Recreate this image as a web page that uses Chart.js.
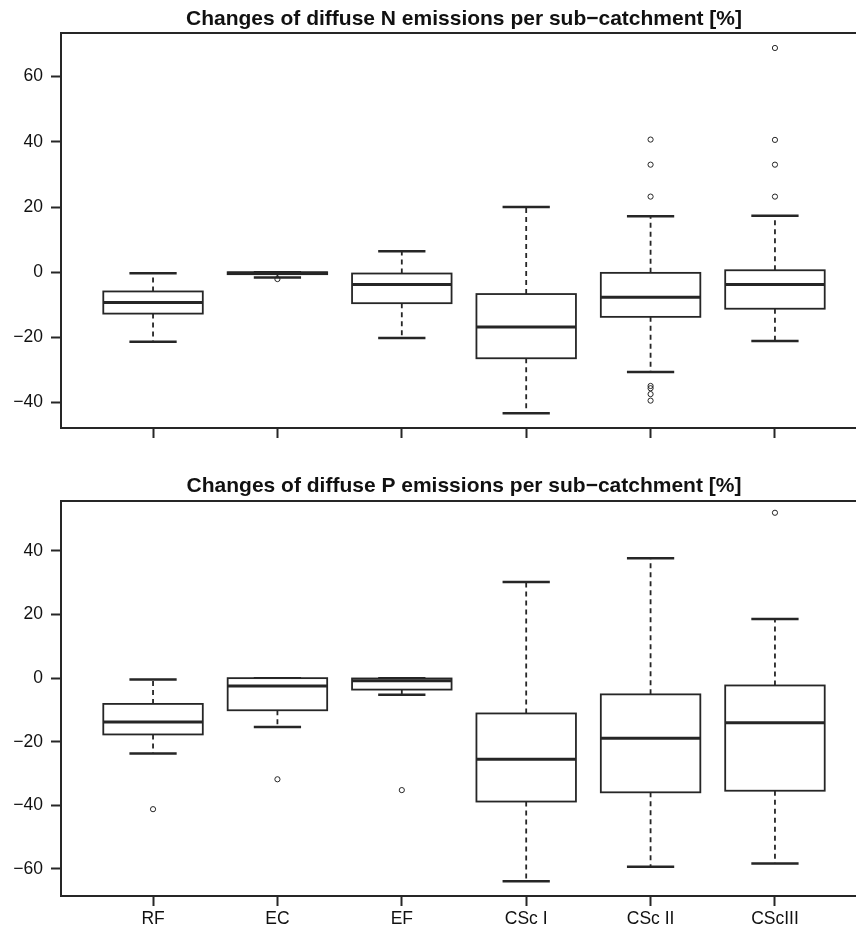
<!DOCTYPE html>
<html lang="en">
<head>
<meta charset="UTF-8" />
<title>Changes of diffuse N and P emissions</title>
<script src="https://cdn.jsdelivr.net/npm/chart.js"></script>
<style>
  body { margin: 0; background: #fff; overflow: hidden; width: 856px; height: 930px; }
  canvas { display: block; }
</style>
</head>
<body>
<canvas id="nChart" width="880" height="465"></canvas>
<canvas id="pChart" width="880" height="465"></canvas>
<script>
// scenarios on the x axis
const categories = ['RF', 'EC', 'EF', 'CSc I', 'CSc II', 'CScIII'];

// diffuse N emission changes [%]
const nLow  = [-21.3, -1.6, -20.2, -43.3, -30.6, -21.1];
const nQ1   = [-12.7, -0.6,  -9.5, -26.4, -13.7, -11.2];
const nMed  = [ -9.3, -0.3,  -3.8, -16.8,  -7.7,  -3.8];
const nQ3   = [ -5.9,  0.0,  -0.4,  -6.7,  -0.2,   0.6];
const nHigh = [ -0.3,  0.0,   6.4,  20.0,  17.2,  17.3];
const nOutliers = [[], [-2.1], [], [], [40.7, 33.0, 23.2, -34.9, -35.6, -37.4, -39.4], [68.8, 40.6, 33.0, 23.2]];
const nTicks = [-40, -20, 0, 20, 40, 60];

// diffuse P emission changes [%]
const pLow  = [-23.7, -15.4, -5.2, -63.9, -59.3, -58.3];
const pQ1   = [-17.7, -10.1, -3.6, -38.8, -35.9, -35.4];
const pMed  = [-13.8,  -2.5, -0.8, -25.5, -18.9, -14.0];
const pQ3   = [ -8.1,   0.0, -0.1, -11.1,  -5.1,  -2.3];
const pHigh = [ -0.4,   0.0,  0.0,  30.2,  37.7,  18.6];
const pOutliers = [[-41.2], [-31.8], [-35.2], [], [], [52.0]];
const pTicks = [-60, -40, -20, 0, 20, 40];

const INK = '#262626';
const FONT = "'Liberation Sans', Arial, Helvetica, sans-serif";

function minusLabel(v) {
  return v < 0 ? '\u2212' + Math.abs(v) : String(v);
}

// draws boxes, whiskers, the top frame line and the panel title
function makeBoxPlugin(title, titleY, s) {
  return {
    id: 'boxPlot',
    beforeDatasetsDraw(chart) {
      const { ctx, scales: { x, y } } = chart;
      ctx.save();
      ctx.strokeStyle = INK;
      categories.forEach((c, i) => {
        const cx = x.getPixelForValue(i);
        const bl = x.getPixelForValue(i - 0.4), br = x.getPixelForValue(i + 0.4);
        const sl = x.getPixelForValue(i - 0.19), sr = x.getPixelForValue(i + 0.19);
        const yLo = y.getPixelForValue(s.low[i]), yHi = y.getPixelForValue(s.high[i]);
        const y1 = y.getPixelForValue(s.q1[i]), y3 = y.getPixelForValue(s.q3[i]);
        const ym = y.getPixelForValue(s.med[i]);
        // whiskers
        ctx.lineWidth = 1.8;
        ctx.setLineDash([5, 4]);
        ctx.beginPath();
        ctx.moveTo(cx, y3); ctx.lineTo(cx, yHi);
        ctx.moveTo(cx, y1); ctx.lineTo(cx, yLo);
        ctx.stroke();
        ctx.setLineDash([]);
        // staples
        ctx.lineWidth = 2.5;
        ctx.beginPath();
        ctx.moveTo(sl, yHi); ctx.lineTo(sr, yHi);
        ctx.moveTo(sl, yLo); ctx.lineTo(sr, yLo);
        ctx.stroke();
        // box
        ctx.fillStyle = '#fff';
        ctx.fillRect(bl, y3, br - bl, y1 - y3);
        ctx.lineWidth = 1.8;
        ctx.strokeRect(bl, y3, br - bl, y1 - y3);
        // median
        ctx.lineWidth = 3;
        ctx.beginPath();
        ctx.moveTo(bl, ym); ctx.lineTo(br, ym);
        ctx.stroke();
      });
      ctx.restore();
    },
    afterDraw(chart) {
      const { ctx, chartArea: a } = chart;
      ctx.save();
      ctx.strokeStyle = INK;
      ctx.lineWidth = 2;
      ctx.beginPath();
      ctx.moveTo(a.left - 1, a.top); ctx.lineTo(a.right, a.top); ctx.lineTo(a.right, a.bottom);
      ctx.stroke();
      ctx.fillStyle = '#111';
      ctx.font = 'bold 21px ' + FONT;
      ctx.textAlign = 'center';
      ctx.textBaseline = 'alphabetic';
      ctx.fillText(title, (a.left + a.right) / 2, titleY);
      ctx.restore();
    }
  };
}

function makeChart(id, o) {
  const points = [];
  o.outliers.forEach((list, i) => list.forEach(v => points.push({ x: i, y: v })));
  return new Chart(document.getElementById(id), {
    type: 'scatter',
    data: {
      datasets: [{
        data: points,
        pointRadius: 2.6,
        pointBorderWidth: 1,
        borderColor: INK,
        backgroundColor: 'rgba(0,0,0,0)'
      }]
    },
    options: {
      responsive: false,
      animation: false,
      devicePixelRatio: 1,
      events: [],
      layout: { padding: { top: o.top, right: 13, left: 0, bottom: 0 } },
      plugins: { legend: { display: false }, tooltip: { enabled: false } },
      scales: {
        x: {
          type: 'linear',
          min: -0.74,
          max: 5.74,
          afterBuildTicks: s => { s.ticks = categories.map((c, i) => ({ value: i })); },
          afterFit: s => { s.height = o.xHeight; },
          ticks: {
            callback: v => o.showLabels ? categories[v] : '',
            color: '#111',
            font: { family: FONT, size: 17.5 },
            padding: 3,
            maxRotation: 0,
            autoSkip: false
          },
          grid: { drawOnChartArea: false, drawTicks: true, tickLength: 10, tickWidth: 2, tickColor: INK },
          border: { display: true, color: INK, width: 2 }
        },
        y: {
          min: o.yMin,
          max: o.yMax,
          afterBuildTicks: s => { s.ticks = o.yTicks.map(v => ({ value: v })); },
          afterFit: s => { s.width = 61; },
          ticks: {
            callback: v => minusLabel(v),
            color: '#111',
            font: { family: FONT, size: 17.5 },
            padding: 8
          },
          grid: { drawOnChartArea: false, drawTicks: true, tickLength: 10, tickWidth: 2, tickColor: INK },
          border: { display: true, color: INK, width: 2 }
        }
      }
    },
    plugins: [makeBoxPlugin(o.title, o.titleY, o.stats)]
  });
}

makeChart('nChart', {
  title: 'Changes of diffuse N emissions per sub\u2212catchment [%]',
  titleY: 25,
  top: 33,
  xHeight: 37,
  showLabels: false,
  yMin: -47.8,
  yMax: 73.4,
  yTicks: nTicks,
  outliers: nOutliers,
  stats: { low: nLow, q1: nQ1, med: nMed, q3: nQ3, high: nHigh }
});

makeChart('pChart', {
  title: 'Changes of diffuse P emissions per sub\u2212catchment [%]',
  titleY: 27,
  top: 36,
  xHeight: 34,
  showLabels: true,
  yMin: -68.5,
  yMax: 55.7,
  yTicks: pTicks,
  outliers: pOutliers,
  stats: { low: pLow, q1: pQ1, med: pMed, q3: pQ3, high: pHigh }
});
</script>
</body>
</html>
